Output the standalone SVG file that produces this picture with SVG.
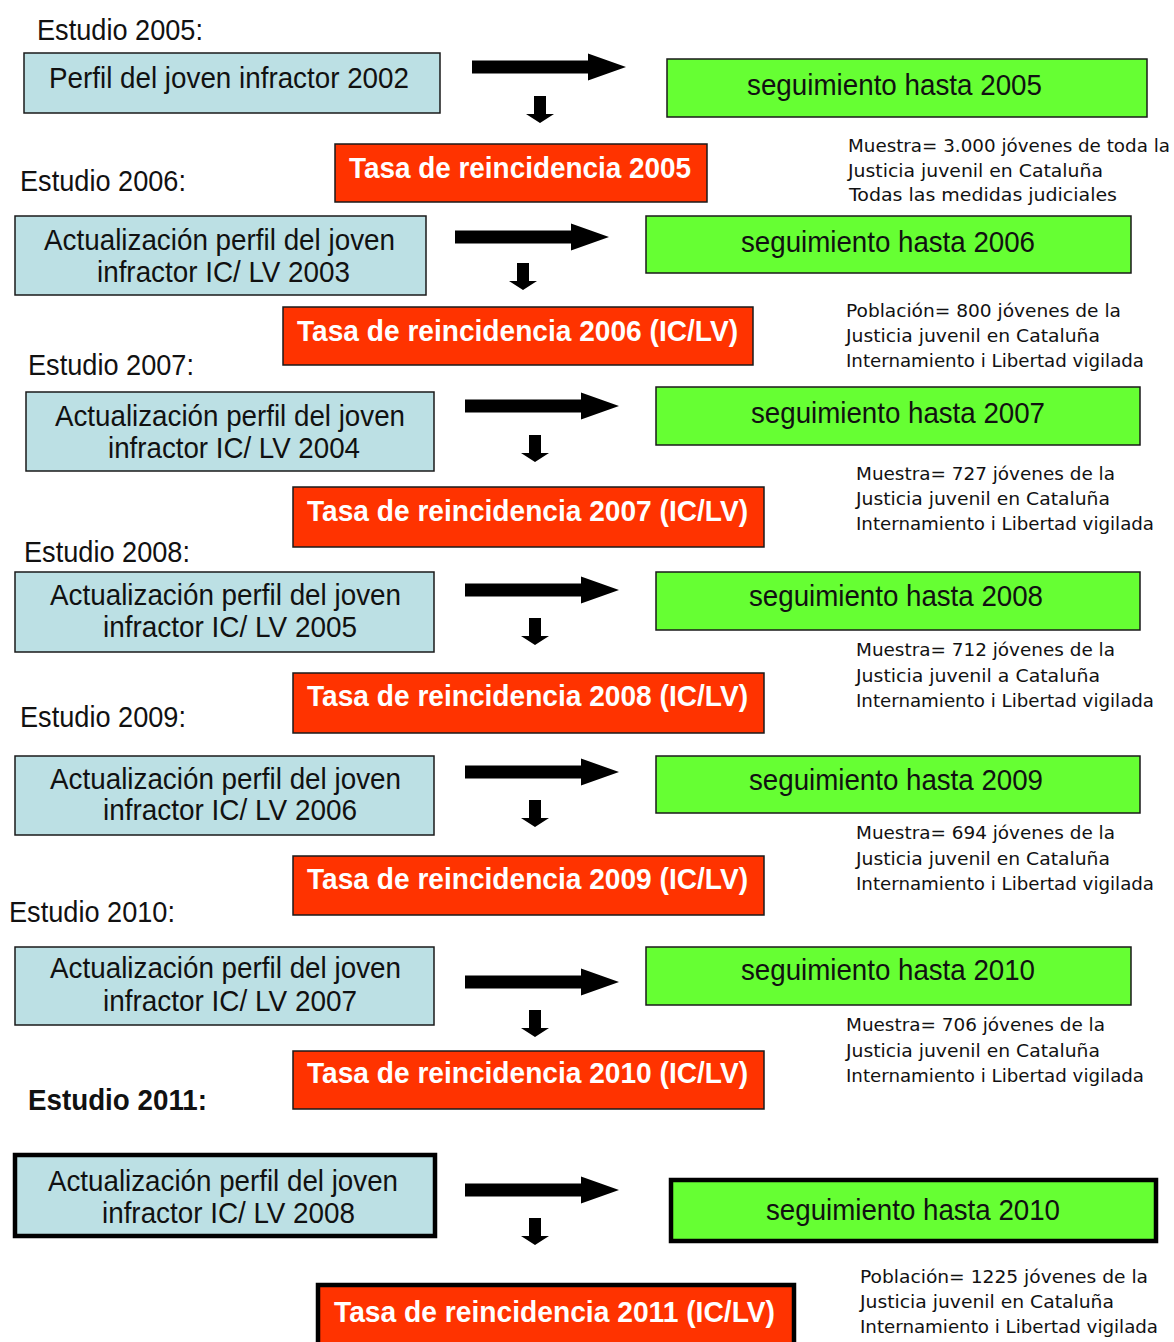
<svg xmlns="http://www.w3.org/2000/svg" xmlns:xlink="http://www.w3.org/1999/xlink" width="1174" height="1342" viewBox="0 0 1174 1342">
<style>
.bg{fill:#ffffff}
.blue{fill:#BCE0E4;stroke:#1a1a1a;stroke-width:1.5}
.green{fill:#66FF33;stroke:#1a1a1a;stroke-width:1.5}
.red{fill:#FF3300;stroke:#1a1a1a;stroke-width:1.5}
.thick{stroke:#000;stroke-width:4.5}
.t{font-family:"Liberation Sans",Arial,sans-serif;font-size:29px;fill:#111}
.lbl{font-family:"Liberation Sans",Arial,sans-serif;font-size:29px;fill:#111}
.bold{font-weight:bold}
.w{font-family:"Liberation Sans",Arial,sans-serif;font-size:29px;font-weight:bold;fill:#ffffff}
.s{font-family:"DejaVu Sans","Liberation Sans",sans-serif;font-size:18px;fill:#111}
.arr{fill:#000}
</style>
<defs>
<path id="ar" d="M0,-6.5 H116 V-13.5 L154,0 L116,13.5 V6.5 H0 Z"/>
<path id="ad" d="M-6,0 H6 V18 H14 L0,27 L-14,18 H-6 Z"/>
</defs>
<rect class="bg" x="0" y="0" width="1174" height="1342"/>

<g id="labels">
<text class="lbl" x="37" y="40" textLength="166" lengthAdjust="spacingAndGlyphs">Estudio 2005:</text>
<text class="lbl" x="20" y="191" textLength="166" lengthAdjust="spacingAndGlyphs">Estudio 2006:</text>
<text class="lbl" x="28" y="375" textLength="166" lengthAdjust="spacingAndGlyphs">Estudio 2007:</text>
<text class="lbl" x="24" y="562" textLength="166" lengthAdjust="spacingAndGlyphs">Estudio 2008:</text>
<text class="lbl" x="20" y="727" textLength="166" lengthAdjust="spacingAndGlyphs">Estudio 2009:</text>
<text class="lbl" x="9" y="922" textLength="166" lengthAdjust="spacingAndGlyphs">Estudio 2010:</text>
<text class="lbl bold" x="28" y="1110" textLength="179" lengthAdjust="spacingAndGlyphs">Estudio 2011:</text>
</g>

<g id="connectors" class="arr">
<use xlink:href="#ar" x="472" y="67"/>
<use xlink:href="#ad" x="540" y="96"/>
<use xlink:href="#ar" x="455" y="237"/>
<use xlink:href="#ad" x="523" y="263"/>
<use xlink:href="#ar" x="465" y="406"/>
<use xlink:href="#ad" x="535" y="435"/>
<use xlink:href="#ar" x="465" y="590"/>
<use xlink:href="#ad" x="535" y="618"/>
<use xlink:href="#ar" x="465" y="772"/>
<use xlink:href="#ad" x="535" y="800"/>
<use xlink:href="#ar" x="465" y="982"/>
<use xlink:href="#ad" x="535" y="1010"/>
<use xlink:href="#ar" x="465" y="1190"/>
<use xlink:href="#ad" x="535" y="1218"/>
</g>

<!-- 2005 -->
<g id="perfil2002">
<rect class="blue" x="24" y="53" width="416" height="60"/>
<text class="t" x="49" y="88" textLength="360" lengthAdjust="spacingAndGlyphs">Perfil del joven infractor 2002</text>
</g>
<g id="seg2005">
<rect class="green" x="667" y="59" width="480" height="58"/>
<text class="t" x="747" y="95" textLength="295" lengthAdjust="spacingAndGlyphs">seguimiento hasta 2005</text>
</g>
<g id="tasa2005">
<rect class="red" x="335" y="144" width="372" height="58"/>
<text class="w" x="349" y="178" textLength="342" lengthAdjust="spacingAndGlyphs">Tasa de reincidencia 2005</text>
</g>
<g id="nota2005">
<text class="s" x="848" y="152" textLength="322" lengthAdjust="spacingAndGlyphs">Muestra= 3.000 jóvenes de toda la</text>
<text class="s" x="848" y="177" textLength="255" lengthAdjust="spacingAndGlyphs">Justicia juvenil en Cataluña</text>
<text class="s" x="849" y="201" textLength="268" lengthAdjust="spacingAndGlyphs">Todas las medidas judiciales</text>
</g>

<!-- 2006 -->
<g id="perfil2003">
<rect class="blue" x="15" y="216" width="411" height="79"/>
<text class="t" x="44" y="250" textLength="351" lengthAdjust="spacingAndGlyphs">Actualización perfil del joven</text>
<text class="t" x="97" y="282" textLength="253" lengthAdjust="spacingAndGlyphs">infractor IC/ LV 2003</text>
</g>
<g id="seg2006">
<rect class="green" x="646" y="216" width="485" height="57"/>
<text class="t" x="741" y="252" textLength="294" lengthAdjust="spacingAndGlyphs">seguimiento hasta 2006</text>
</g>
<g id="tasa2006">
<rect class="red" x="283" y="307" width="470" height="58"/>
<text class="w" x="297" y="341" textLength="441" lengthAdjust="spacingAndGlyphs">Tasa de reincidencia 2006 (IC/LV)</text>
</g>
<g id="nota2006">
<text class="s" x="846" y="317" textLength="275" lengthAdjust="spacingAndGlyphs">Población= 800 jóvenes de la</text>
<text class="s" x="846" y="342" textLength="254" lengthAdjust="spacingAndGlyphs">Justicia juvenil en Cataluña</text>
<text class="s" x="846" y="367" textLength="298" lengthAdjust="spacingAndGlyphs">Internamiento i Libertad vigilada</text>
</g>

<!-- 2007 -->
<g id="perfil2004">
<rect class="blue" x="26" y="392" width="408" height="79"/>
<text class="t" x="55" y="426" textLength="350" lengthAdjust="spacingAndGlyphs">Actualización perfil del joven</text>
<text class="t" x="108" y="458" textLength="252" lengthAdjust="spacingAndGlyphs">infractor IC/ LV 2004</text>
</g>
<g id="seg2007">
<rect class="green" x="656" y="387" width="484" height="58"/>
<text class="t" x="751" y="423" textLength="294" lengthAdjust="spacingAndGlyphs">seguimiento hasta 2007</text>
</g>
<g id="tasa2007">
<rect class="red" x="293" y="487" width="471" height="60"/>
<text class="w" x="307" y="521" textLength="441" lengthAdjust="spacingAndGlyphs">Tasa de reincidencia 2007 (IC/LV)</text>
</g>
<g id="nota2007">
<text class="s" x="856" y="480" textLength="259" lengthAdjust="spacingAndGlyphs">Muestra= 727 jóvenes de la</text>
<text class="s" x="856" y="505" textLength="254" lengthAdjust="spacingAndGlyphs">Justicia juvenil en Cataluña</text>
<text class="s" x="856" y="530" textLength="298" lengthAdjust="spacingAndGlyphs">Internamiento i Libertad vigilada</text>
</g>

<!-- 2008 -->
<g id="perfil2005">
<rect class="blue" x="15" y="572" width="419" height="80"/>
<text class="t" x="50" y="605" textLength="351" lengthAdjust="spacingAndGlyphs">Actualización perfil del joven</text>
<text class="t" x="103" y="637" textLength="254" lengthAdjust="spacingAndGlyphs">infractor IC/ LV 2005</text>
</g>
<g id="seg2008">
<rect class="green" x="656" y="572" width="484" height="58"/>
<text class="t" x="749" y="606" textLength="294" lengthAdjust="spacingAndGlyphs">seguimiento hasta 2008</text>
</g>
<g id="tasa2008">
<rect class="red" x="293" y="673" width="471" height="60"/>
<text class="w" x="307" y="706" textLength="441" lengthAdjust="spacingAndGlyphs">Tasa de reincidencia 2008 (IC/LV)</text>
</g>
<g id="nota2008">
<text class="s" x="856" y="656" textLength="259" lengthAdjust="spacingAndGlyphs">Muestra= 712 jóvenes de la</text>
<text class="s" x="856" y="682" textLength="244" lengthAdjust="spacingAndGlyphs">Justicia juvenil a Cataluña</text>
<text class="s" x="856" y="707" textLength="298" lengthAdjust="spacingAndGlyphs">Internamiento i Libertad vigilada</text>
</g>

<!-- 2009 -->
<g id="perfil2006">
<rect class="blue" x="15" y="756" width="419" height="79"/>
<text class="t" x="50" y="789" textLength="351" lengthAdjust="spacingAndGlyphs">Actualización perfil del joven</text>
<text class="t" x="103" y="820" textLength="254" lengthAdjust="spacingAndGlyphs">infractor IC/ LV 2006</text>
</g>
<g id="seg2009">
<rect class="green" x="656" y="756" width="484" height="57"/>
<text class="t" x="749" y="790" textLength="294" lengthAdjust="spacingAndGlyphs">seguimiento hasta 2009</text>
</g>
<g id="tasa2009">
<rect class="red" x="293" y="856" width="471" height="59"/>
<text class="w" x="307" y="889" textLength="441" lengthAdjust="spacingAndGlyphs">Tasa de reincidencia 2009 (IC/LV)</text>
</g>
<g id="nota2009">
<text class="s" x="856" y="839" textLength="259" lengthAdjust="spacingAndGlyphs">Muestra= 694 jóvenes de la</text>
<text class="s" x="856" y="865" textLength="254" lengthAdjust="spacingAndGlyphs">Justicia juvenil en Cataluña</text>
<text class="s" x="856" y="890" textLength="298" lengthAdjust="spacingAndGlyphs">Internamiento i Libertad vigilada</text>
</g>

<!-- 2010 -->
<g id="perfil2007">
<rect class="blue" x="15" y="947" width="419" height="78"/>
<text class="t" x="50" y="978" textLength="351" lengthAdjust="spacingAndGlyphs">Actualización perfil del joven</text>
<text class="t" x="103" y="1011" textLength="254" lengthAdjust="spacingAndGlyphs">infractor IC/ LV 2007</text>
</g>
<g id="seg2010">
<rect class="green" x="646" y="947" width="485" height="58"/>
<text class="t" x="741" y="980" textLength="294" lengthAdjust="spacingAndGlyphs">seguimiento hasta 2010</text>
</g>
<g id="tasa2010">
<rect class="red" x="293" y="1051" width="471" height="58"/>
<text class="w" x="307" y="1083" textLength="441" lengthAdjust="spacingAndGlyphs">Tasa de reincidencia 2010 (IC/LV)</text>
</g>
<g id="nota2010">
<text class="s" x="846" y="1031" textLength="259" lengthAdjust="spacingAndGlyphs">Muestra= 706 jóvenes de la</text>
<text class="s" x="846" y="1057" textLength="254" lengthAdjust="spacingAndGlyphs">Justicia juvenil en Cataluña</text>
<text class="s" x="846" y="1082" textLength="298" lengthAdjust="spacingAndGlyphs">Internamiento i Libertad vigilada</text>
</g>

<!-- 2011 -->
<g id="perfil2008">
<rect class="blue thick" x="15" y="1155" width="420" height="81"/>
<text class="t" x="48" y="1191" textLength="350" lengthAdjust="spacingAndGlyphs">Actualización perfil del joven</text>
<text class="t" x="102" y="1223" textLength="253" lengthAdjust="spacingAndGlyphs">infractor IC/ LV 2008</text>
</g>
<g id="seg2010b">
<rect class="green thick" x="671" y="1180" width="485" height="61"/>
<text class="t" x="766" y="1220" textLength="294" lengthAdjust="spacingAndGlyphs">seguimiento hasta 2010</text>
</g>
<g id="tasa2011">
<rect class="red thick" x="318" y="1285" width="476" height="62"/>
<text class="w" x="334" y="1322" textLength="441" lengthAdjust="spacingAndGlyphs">Tasa de reincidencia 2011 (IC/LV)</text>
</g>
<g id="nota2011">
<text class="s" x="860" y="1283" textLength="288" lengthAdjust="spacingAndGlyphs">Población= 1225 jóvenes de la</text>
<text class="s" x="860" y="1308" textLength="254" lengthAdjust="spacingAndGlyphs">Justicia juvenil en Cataluña</text>
<text class="s" x="860" y="1333" textLength="298" lengthAdjust="spacingAndGlyphs">Internamiento i Libertad vigilada</text>
</g>
</svg>
